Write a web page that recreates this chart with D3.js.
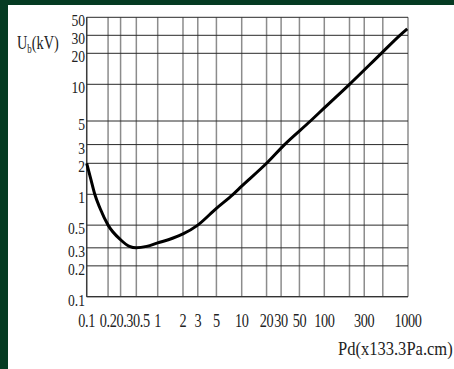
<!DOCTYPE html>
<html>
<head>
<meta charset="utf-8">
<script src="https://cdn.jsdelivr.net/npm/d3@7"></script>
<style>
  body { margin: 0; background: #fff; }
  text { font-family: "Liberation Serif", "Times New Roman", serif; fill: #222; }
</style>
</head>
<body>
<figure id="paschen" style="margin:0"></figure>
<script>
// Pd values (x133.3 Pa.cm) and breakdown voltage (kV)
const pd = [0.1, 0.115, 0.13, 0.154, 0.2, 0.3, 0.4, 0.5, 0.7, 1, 1.5, 2, 3, 5, 7.9, 10, 20, 33, 68, 100, 200, 480, 800, 980];
const ub = [2.0, 1.38, 1.0, 0.73, 0.5, 0.36, 0.31, 0.30, 0.31, 0.335, 0.372, 0.41, 0.5, 0.73, 1.0, 1.2, 2.0, 3.0, 5.0, 6.4, 10, 20, 30, 36];

const xGrid = [0.1, 0.2, 0.3, 0.5, 1, 2, 3, 5, 10, 20, 30, 50, 100, 200, 300, 500, 1000];
const xTicks = [0.1, 0.2, 0.3, 0.5, 1, 2, 3, 5, 10, 20, 30, 50, 100, 300, 1000];
const yTicks = [0.1, 0.2, 0.3, 0.5, 1, 2, 3, 5, 10, 20, 30, 50];

const width = 454, height = 369;
const squeeze = 0.75;   // the printed digits are narrow

const svg = d3.select("figure#paschen")
  .append("svg")
  .attr("width", width)
  .attr("height", height);

// dark green frame
svg.append("rect").attr("width", width).attr("height", height).attr("fill", "#053b22");
svg.append("rect").attr("x", 8).attr("y", 5).attr("width", width - 8).attr("height", height - 5).attr("fill", "#fff");

// the printed scales are not perfectly logarithmic, so use piecewise log scales
const x = d3.scaleLog()
  .domain([0.1, 1, 10, 100, 1000])
  .range([86.7, 157.7, 241.7, 324.3, 408]);

const y = d3.scaleLog()
  .domain([0.1, 1, 2, 5, 10, 20, 30, 50])
  .range([296.7, 194.3, 163.3, 121, 84.3, 53.3, 35.3, 17.3]);

// vertical grid
svg.append("g")
  .selectAll("line")
  .data(xGrid)
  .enter()
  .append("line")
  .attr("x1", d => x(d)).attr("x2", d => x(d))
  .attr("y1", y(50)).attr("y2", y(0.1))
  .attr("stroke", "#8c8c8c")
  .attr("stroke-width", 1.5);

// horizontal grid
svg.append("g")
  .selectAll("line")
  .data(yTicks)
  .enter()
  .append("line")
  .attr("x1", x(0.1)).attr("x2", x(1000))
  .attr("y1", d => y(d)).attr("y2", d => y(d))
  .attr("stroke", "#2a2a2a")
  .attr("stroke-width", 1);

// axes lines
svg.append("line")
  .attr("x1", x(0.1)).attr("x2", x(0.1)).attr("y1", y(50)).attr("y2", y(0.1))
  .attr("stroke", "#333").attr("stroke-width", 1.2);
svg.append("line")
  .attr("x1", x(0.1)).attr("x2", x(1000)).attr("y1", y(0.1)).attr("y2", y(0.1))
  .attr("stroke", "#333").attr("stroke-width", 1.2);

const fmt = d => String(d);

// y tick labels
svg.append("g")
  .selectAll("g")
  .data(yTicks)
  .enter()
  .append("g")
  .attr("transform", d => "translate(85," + (y(d) + 3) + ")")
  .append("text")
  .attr("transform", "scale(0.8,1)")
  .attr("text-anchor", "end")
  .attr("dy", "0.35em")
  .style("font-size", "17px")
  .text(fmt);

// x tick labels, pushed apart where the small values crowd together
const xl = svg.append("g")
  .selectAll("g")
  .data(xTicks)
  .enter()
  .append("g");
xl.append("text")
  .attr("transform", "scale(" + squeeze + ",1)")
  .style("font-size", "19px")
  .style("letter-spacing", "-0.5px")
  .text(fmt);

let prevRight = -Infinity;
xl.each(function(d) {
  const w = d3.select(this).select("text").node().getComputedTextLength() * squeeze;
  let left = Math.max(x(d) - w / 2, prevRight);
  prevRight = left + w;
  d3.select(this).attr("transform", "translate(" + left + ",327)");
});

// axis titles
const yt = svg.append("g").attr("transform", "translate(17,49)")
  .append("text")
  .attr("transform", "scale(" + squeeze + ",1)")
  .style("font-size", "19px");
yt.append("tspan").text("U");
yt.append("tspan").attr("dy", 4).style("font-size", "12px").text("b");
yt.append("tspan").attr("dy", -4).text("(kV)");

svg.append("g").attr("transform", "translate(338,355)")
  .append("text")
  .attr("transform", "scale(0.87,1)")
  .style("font-size", "19px")
  .text("Pd(x133.3Pa.cm)");

// curve
const pts = pd.map((d, i) => [d, ub[i]]);
svg.append("path")
  .datum(pts)
  .attr("fill", "none")
  .attr("stroke", "#000")
  .attr("stroke-width", 3)
  .attr("d", d3.line()
    .x(d => x(d[0]))
    .y(d => y(d[1]))
    .curve(d3.curveMonotoneX));
</script>
</body>
</html>
